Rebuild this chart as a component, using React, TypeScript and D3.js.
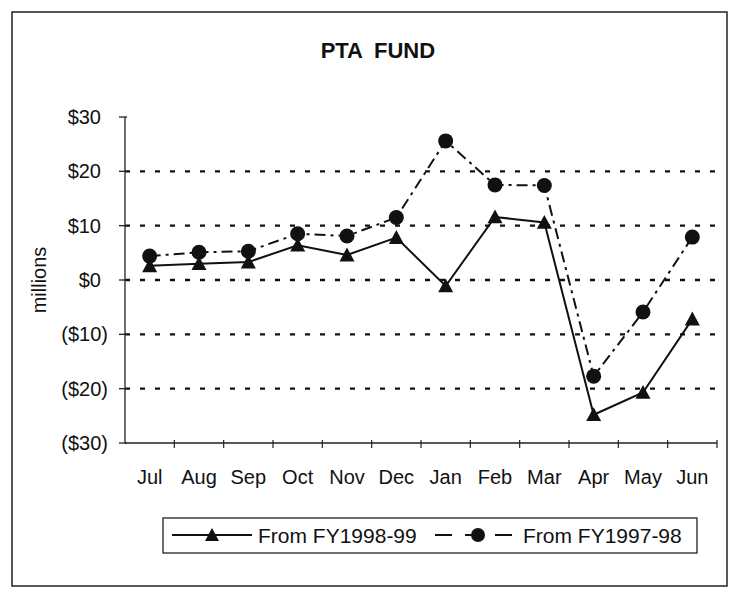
import React from "react";
import * as d3 from "d3";

const months = ["Jul", "Aug", "Sep", "Oct", "Nov", "Dec", "Jan", "Feb", "Mar", "Apr", "May", "Jun"];
const fy9899 = [2.6, 3.0, 3.3, 6.4, 4.6, 7.8, -1.1, 11.6, 10.6, -24.8, -20.7, -7.2];
const fy9798 = [4.4, 5.1, 5.3, 8.5, 8.1, 11.5, 25.6, 17.5, 17.4, -17.7, -5.9, 7.9];
const yTicks = [30, 20, 10, 0, -10, -20, -30];
const gridValues = [20, 10, 0, -10, -20];
const seriesNames = ["From FY1998-99", "From FY1997-98"];
const titleWords = ["PTA", "FUND"];

const fmt = (v: number) => (v < 0 ? `($${Math.abs(v)})` : `$${v}`);

export default function App() {
  const W = 736, H = 595;
  const left = 125, right = 717, top = 117, bottom = 443;
  const x = d3.scaleBand<string>().domain(months).range([left, right]);
  const y = d3.scaleLinear().domain([-30, 30]).range([bottom, top]);
  const cx = (m: string) => (x(m) as number) + x.bandwidth() / 2;
  const line = d3.line<number>().x((_, i) => cx(months[i])).y((d) => y(d));
  const font = "'Liberation Sans', Arial, sans-serif";
  const tri = (px: number, py: number, s = 7.5) =>
    `M${px},${py - s} L${px + s},${py + s * 0.85} L${px - s},${py + s * 0.85} Z`;

  return (
    <svg width={W} height={H} style={{ position: "absolute", left: 0, top: 0, background: "#fff" }}>
      <rect x={0} y={0} width={W} height={H} fill="#fff" />
      <rect x={12} y={12} width={715} height={574} fill="none" stroke="#222" strokeWidth={1.5} />
      <text x={363} y={58} textAnchor="end" fontFamily={font} fontWeight="bold" fontSize={22} fill="#111">
        {titleWords[0]}
      </text>
      <text x={374} y={58} textAnchor="start" fontFamily={font} fontWeight="bold" fontSize={22} fill="#111">
        {titleWords[1]}
      </text>
      {/* grid */}
      {gridValues.map((v) => (
        <line key={v} x1={left} x2={right} y1={y(v)} y2={y(v)} stroke="#111" strokeWidth={2.4} strokeDasharray="5,10" />
      ))}
      {/* axes */}
      <line x1={left} x2={left} y1={top} y2={bottom} stroke="#222" strokeWidth={1.3} />
      <line x1={left} x2={right} y1={bottom} y2={bottom} stroke="#222" strokeWidth={1.3} />
      {yTicks.map((v) => (
        <g key={v}>
          <line x1={left - 6} x2={left + 2} y1={y(v)} y2={y(v)} stroke="#222" strokeWidth={1.3} />
          <text x={v < 0 ? 108 : 101} y={y(v) + 7} textAnchor="end" fontFamily={font} fontSize={20} fill="#111">
            {fmt(v)}
          </text>
        </g>
      ))}
      {months.map((m) => (
        <line key={"t" + m} x1={(x(m) as number) + x.bandwidth()} x2={(x(m) as number) + x.bandwidth()} y1={bottom - 3} y2={bottom + 5} stroke="#222" strokeWidth={1.2} />
      ))}
      {months.map((m) => (
        <text key={m} x={cx(m)} y={484} textAnchor="middle" fontFamily={font} fontSize={20} fill="#111">
          {m}
        </text>
      ))}
      <text transform="translate(46,280) rotate(-90)" textAnchor="middle" fontFamily={font} fontSize={20} fill="#111">
        millions
      </text>
      {/* series */}
      <path d={line(fy9798) || ""} fill="none" stroke="#111" strokeWidth={2} strokeDasharray="11,5,3,5" />
      <path d={line(fy9899) || ""} fill="none" stroke="#111" strokeWidth={2} />
      {fy9798.map((v, i) => (
        <circle key={"c" + i} cx={cx(months[i])} cy={y(v)} r={7.5} fill="#111" />
      ))}
      {fy9899.map((v, i) => (
        <path key={"p" + i} d={tri(cx(months[i]), y(v))} fill="#111" />
      ))}
      {/* legend */}
      <rect x={163} y={518} width={534} height={35} fill="none" stroke="#222" strokeWidth={1.3} />
      <line x1={172} x2={252} y1={535} y2={535} stroke="#111" strokeWidth={2} />
      <path d={tri(212, 535, 7)} fill="#111" />
      <text x={258} y={543} fontFamily={font} fontSize={21} fill="#111">{seriesNames[0]}</text>
      <line x1={435} x2={452} y1={535} y2={535} stroke="#111" strokeWidth={2} />
      <line x1={465} x2={472} y1={535} y2={535} stroke="#111" strokeWidth={2} />
      <circle cx={478} cy={535} r={7} fill="#111" />
      <line x1={495} x2={512} y1={535} y2={535} stroke="#111" strokeWidth={2} />
      <text x={523} y={543} fontFamily={font} fontSize={21} fill="#111">{seriesNames[1]}</text>
    </svg>
  );
}
